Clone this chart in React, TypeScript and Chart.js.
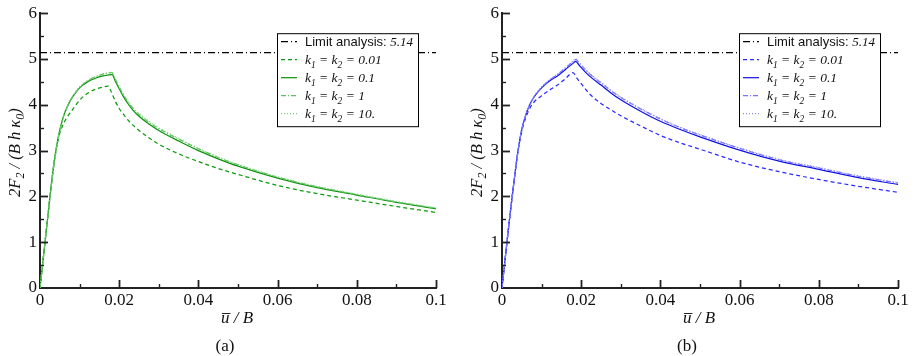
import React, { useEffect, useRef } from "react";
import { Chart, registerables } from "chart.js";
Chart.register(...registerables);

// ---------- data ----------
const LIMIT = 5.14;
const X_MAX = 0.1;
const X_STEP = 0.02;
const Y_MAX = 6;
const Y_STEP = 1;
const kValues = ["0.01", "0.1", "1", "10."];

// Panel (a) – green
const uA_k001 = [0, 0.001, 0.002, 0.003, 0.004, 0.005, 0.006, 0.007, 0.008, 0.010, 0.012, 0.014, 0.016, 0.0172, 0.018, 0.019, 0.020, 0.021, 0.0225, 0.025, 0.0275, 0.030, 0.035, 0.040, 0.045, 0.050, 0.060, 0.070, 0.080, 0.090, 0.100];
const fA_k001 = [0, 0.79, 1.58, 2.36, 2.98, 3.38, 3.6, 3.75, 3.87, 4.1, 4.25, 4.34, 4.39, 4.41, 4.28, 4.08, 3.92, 3.8, 3.64, 3.44, 3.28, 3.14, 2.93, 2.76, 2.61, 2.48, 2.24, 2.06, 1.92, 1.78, 1.65];
const uA = [0, 0.001, 0.002, 0.003, 0.004, 0.005, 0.006, 0.007, 0.008, 0.010, 0.012, 0.014, 0.016, 0.0182, 0.019, 0.020, 0.021, 0.022, 0.0235, 0.025, 0.0275, 0.030, 0.035, 0.040, 0.045, 0.050, 0.060, 0.070, 0.080, 0.090, 0.100];
const fA_k01 = [0, 0.79, 1.58, 2.36, 3.0, 3.45, 3.77, 3.98, 4.14, 4.37, 4.5, 4.58, 4.63, 4.66, 4.52, 4.35, 4.19, 4.05, 3.88, 3.75, 3.58, 3.44, 3.21, 3.0, 2.82, 2.66, 2.4, 2.19, 2.03, 1.87, 1.73];
const fA_k1 = [0, 0.79, 1.58, 2.35, 2.98, 3.43, 3.76, 3.98, 4.15, 4.38, 4.52, 4.61, 4.67, 4.70, 4.56, 4.39, 4.23, 4.09, 3.92, 3.79, 3.62, 3.48, 3.25, 3.04, 2.85, 2.69, 2.42, 2.21, 2.04, 1.88, 1.74];
const fA_k10 = [0, 0.79, 1.57, 2.34, 2.96, 3.41, 3.75, 3.98, 4.15, 4.39, 4.53, 4.62, 4.68, 4.71, 4.57, 4.40, 4.24, 4.10, 3.94, 3.81, 3.64, 3.50, 3.27, 3.05, 2.86, 2.70, 2.43, 2.22, 2.05, 1.89, 1.75];

// Panel (b) – blue
const uB_k001 = [0, 0.001, 0.002, 0.003, 0.004, 0.005, 0.006, 0.007, 0.008, 0.010, 0.012, 0.014, 0.016, 0.0179, 0.019, 0.020, 0.0212, 0.0222, 0.025, 0.0275, 0.030, 0.035, 0.040, 0.045, 0.050, 0.060, 0.070, 0.080, 0.090, 0.100];
const fB_k001 = [0, 0.8, 1.58, 2.3, 2.96, 3.42, 3.72, 3.92, 4.05, 4.2, 4.32, 4.43, 4.57, 4.70, 4.57, 4.46, 4.33, 4.23, 4.03, 3.89, 3.76, 3.54, 3.33, 3.17, 3.03, 2.75, 2.54, 2.37, 2.22, 2.09];
const uB = [0, 0.001, 0.002, 0.003, 0.004, 0.005, 0.006, 0.007, 0.008, 0.010, 0.012, 0.014, 0.016, 0.018, 0.0186, 0.0195, 0.021, 0.0222, 0.025, 0.0275, 0.030, 0.035, 0.040, 0.045, 0.050, 0.060, 0.070, 0.080, 0.090, 0.100];
const fB_k01 = [0, 0.8, 1.58, 2.3, 2.98, 3.47, 3.78, 4.0, 4.16, 4.37, 4.52, 4.63, 4.77, 4.91, 4.95, 4.86, 4.72, 4.62, 4.43, 4.26, 4.11, 3.86, 3.64, 3.46, 3.30, 3.01, 2.77, 2.59, 2.41, 2.26];
const fB_k1 = [0, 0.8, 1.58, 2.3, 2.97, 3.46, 3.77, 4.0, 4.16, 4.38, 4.54, 4.66, 4.8, 4.95, 4.99, 4.91, 4.77, 4.67, 4.48, 4.31, 4.16, 3.91, 3.69, 3.5, 3.34, 3.05, 2.8, 2.62, 2.44, 2.29];
const fB_k10 = [0, 0.8, 1.57, 2.29, 2.96, 3.45, 3.77, 4.0, 4.17, 4.39, 4.55, 4.67, 4.81, 4.96, 5.0, 4.92, 4.78, 4.68, 4.49, 4.32, 4.17, 3.92, 3.70, 3.51, 3.35, 3.06, 2.81, 2.63, 2.45, 2.30];

// ---------- styles ----------
const SERIF = '"Liberation Serif", "Times New Roman", serif';
const SANS = '"Liberation Sans", Arial, sans-serif';
const AXIS = "#222";
const DASH_LIMIT = [7, 3, 1, 3];
const DASH_K001 = [4, 3];
const DASH_K01: number[] = [];
const DASH_K1 = [5, 2, 1, 2];
const DASH_K10 = [1, 2];

Chart.defaults.font.family = SERIF;

type PanelCfg = {
  tag: string;
  colors: string[]; // k=0.01, 0.1, 1, 10
  series: { u: number[]; f: number[] }[];
};

const panelA: PanelCfg = {
  tag: "(a)",
  colors: ["#0c9a0c", "#0a900a", "#5cc45c", "#7ccf7c"],
  series: [
    { u: uA_k001, f: fA_k001 },
    { u: uA, f: fA_k01 },
    { u: uA, f: fA_k1 },
    { u: uA, f: fA_k10 },
  ],
};
const panelB: PanelCfg = {
  tag: "(b)",
  colors: ["#2a2aff", "#1010e6", "#7474ff", "#8a8aff"],
  series: [
    { u: uB_k001, f: fB_k001 },
    { u: uB, f: fB_k01 },
    { u: uB, f: fB_k1 },
    { u: uB, f: fB_k10 },
  ],
};

const dashes = [DASH_K001, DASH_K01, DASH_K1, DASH_K10];

function drawSubText(ctx: CanvasRenderingContext2D, parts: [string, boolean][], x: number, y: number, size: number, subSize: number, subShift: number, font: string) {
  let cx = x;
  for (const [t, sub] of parts) {
    ctx.font = `italic ${sub ? subSize : size}px ${font}`;
    ctx.fillText(t, cx, sub ? y + subShift : y);
    cx += ctx.measureText(t).width;
  }
  return cx;
}
function measureSubText(ctx: CanvasRenderingContext2D, parts: [string, boolean][], size: number, subSize: number, font: string) {
  let w = 0;
  for (const [t, sub] of parts) {
    ctx.font = `italic ${sub ? subSize : size}px ${font}`;
    w += ctx.measureText(t).width;
  }
  return w;
}

function makePlugin(cfg: PanelCfg) {
  return {
    id: "panelDecor",
    afterDatasetsDraw(chart: any) {
      const ctx: CanvasRenderingContext2D = chart.ctx;
      const ca = chart.chartArea;
      const bx = ca.left + 237;
      const by = ca.top + 20;
      const bw = 141;
      const bh = 93;
      ctx.save();
      ctx.fillStyle = "#fff";
      ctx.fillRect(bx, by, bw, bh);
      ctx.strokeStyle = "#000";
      ctx.lineWidth = 1;
      ctx.setLineDash([]);
      ctx.strokeRect(bx + 0.5, by + 0.5, bw, bh);
      const rowColors = ["#000", ...cfg.colors];
      const rowDash = [DASH_LIMIT, ...dashes];
      for (let i = 0; i < 5; i++) {
        const cy = by + 8.5 + i * 18;
        ctx.beginPath();
        ctx.strokeStyle = rowColors[i];
        ctx.lineWidth = 1.2;
        ctx.setLineDash(rowDash[i]);
        ctx.moveTo(bx + 4, cy);
        ctx.lineTo(bx + 20, cy);
        ctx.stroke();
        ctx.setLineDash([]);
        ctx.fillStyle = "#111";
        ctx.textBaseline = "alphabetic";
        ctx.textAlign = "left";
        const tx = bx + 28;
        const base = cy + 4.5;
        if (i === 0) {
          ctx.font = `13px ${SANS}`;
          ctx.fillText("Limit analysis: ", tx, base);
          const w = ctx.measureText("Limit analysis: ").width;
          ctx.font = `italic 13px ${SERIF}`;
          ctx.fillText(LIMIT.toFixed(2), tx + w, base);
        } else {
          drawSubText(ctx, [["k", false], ["1", true], [" = k", false], ["2", true], [" = " + kValues[i - 1], false]], tx, base, 13.5, 9.5, 3.5, SERIF);
        }
      }
      ctx.restore();
    },
    afterDraw(chart: any) {
      const ctx: CanvasRenderingContext2D = chart.ctx;
      const ca = chart.chartArea;
      const xs = chart.scales.x;
      const ys = chart.scales.y;
      ctx.save();
      ctx.strokeStyle = AXIS;
      ctx.setLineDash([]);
      // x ticks (inward)
      for (let k = 1; k <= 10; k++) {
        const v = k * (X_STEP / 2);
        const px = Math.round(xs.getPixelForValue(v)) + 0.5;
        const major = k % 2 === 0;
        ctx.lineWidth = major ? 1.8 : 1.4;
        ctx.beginPath();
        ctx.moveTo(px, ca.bottom);
        ctx.lineTo(px, ca.bottom - (major ? 8 : 4));
        ctx.stroke();
      }
      // y ticks (inward)
      for (let k = 1; k <= 12; k++) {
        const v = k * (Y_STEP / 2);
        const py = Math.round(ys.getPixelForValue(v)) + 0.5;
        const major = k % 2 === 0;
        ctx.lineWidth = major ? 1.8 : 1.4;
        ctx.beginPath();
        ctx.moveTo(ca.left, py);
        ctx.lineTo(ca.left + (major ? 8 : 4), py);
        ctx.stroke();
      }
      ctx.fillStyle = "#111";
      ctx.textBaseline = "alphabetic";
      // x title with overline
      const cx = (ca.left + ca.right) / 2 - 1;
      ctx.font = `italic 17px ${SERIF}`;
      const tU = "u";
      const tRest = " / B";
      const wU = ctx.measureText(tU).width;
      const wR = ctx.measureText(tRest).width;
      const x0 = cx - (wU + wR) / 2;
      const base = 323;
      ctx.textAlign = "left";
      ctx.fillText(tU, x0, base);
      ctx.fillText(tRest, x0 + wU, base);
      ctx.lineWidth = 1;
      ctx.beginPath();
      ctx.moveTo(x0 + 1, base - 9.5);
      ctx.lineTo(x0 + wU + 1, base - 9.5);
      ctx.stroke();
      // panel tag
      ctx.font = `17px ${SERIF}`;
      ctx.textAlign = "center";
      ctx.fillText(cfg.tag, ca.left + 185, 351);
      // y title rotated
      const parts: [string, boolean][] = [["2F", false], ["2", true], [" / (B h \u03BA", false], ["0", true], [")", false]];
      ctx.translate(15, (ca.top + ca.bottom) / 2 + 2);
      ctx.rotate(-Math.PI / 2);
      ctx.textAlign = "left";
      const w = measureSubText(ctx, parts, 16.5, 12, SERIF);
      drawSubText(ctx, parts, -w / 2, 5, 16.5, 12, 4, SERIF);
      ctx.restore();
    },
  };
}

const fmt = (v: number) => String(Number(Number(v).toFixed(4)));

function Panel({ cfg, left }: { cfg: PanelCfg; left: number }) {
  const ref = useRef<HTMLCanvasElement>(null);
  useEffect(() => {
    if (!ref.current) return;
    const datasets: any[] = [
      {
        data: [
          { x: 0, y: LIMIT },
          { x: X_MAX, y: LIMIT },
        ],
        borderColor: "#000",
        borderDash: DASH_LIMIT,
        borderWidth: 1.1,
      },
    ];
    [3, 2, 0, 1].forEach((i) => {
      const s = cfg.series[i];
      datasets.push({
        data: s.u.map((u, j) => ({ x: u, y: s.f[j] })),
        borderColor: cfg.colors[i],
        borderDash: dashes[i],
        borderWidth: 1.25,
        cubicInterpolationMode: "monotone",
      });
    });
    const tickFont = { family: SERIF, size: 17 };
    const chart = new Chart(ref.current, {
      type: "line",
      data: { datasets },
      plugins: [makePlugin(cfg)],
      options: {
        responsive: false,
        animation: false,
        events: [],
        layout: { padding: { top: 13, right: 20, left: 0, bottom: 0 } },
        elements: { point: { radius: 0 }, line: { tension: 0 } },
        plugins: { legend: { display: false }, tooltip: { enabled: false } },
        scales: {
          x: {
            type: "linear",
            min: 0,
            max: X_MAX,
            grid: { display: false, drawTicks: false },
            border: { display: true, color: AXIS, width: 2 },
            ticks: { stepSize: X_STEP, font: tickFont, color: "#111", padding: 2, maxRotation: 0, autoSkip: false, callback: (v: any) => fmt(v) },
            afterFit: (s: any) => {
              s.height = 68;
            },
          },
          y: {
            type: "linear",
            min: 0,
            max: Y_MAX,
            grid: { display: false, drawTicks: false },
            border: { display: true, color: AXIS, width: 2 },
            ticks: { stepSize: Y_STEP, font: tickFont, color: "#111", padding: 3, callback: (v: any) => fmt(v) },
            afterFit: (s: any) => {
              s.width = 40;
            },
          },
        },
      } as any,
    });
    return () => chart.destroy();
  }, [cfg]);
  return (
    <canvas
      ref={ref}
      width={456}
      height={356}
      style={{ position: "absolute", left, top: 0, width: 456, height: 356 }}
    />
  );
}

export default function App() {
  return (
    <div style={{ position: "fixed", left: 0, top: 0, width: 913, height: 356, background: "#fff" }}>
      <Panel cfg={panelA} left={0} />
      <Panel cfg={panelB} left={462} />
    </div>
  );
}
